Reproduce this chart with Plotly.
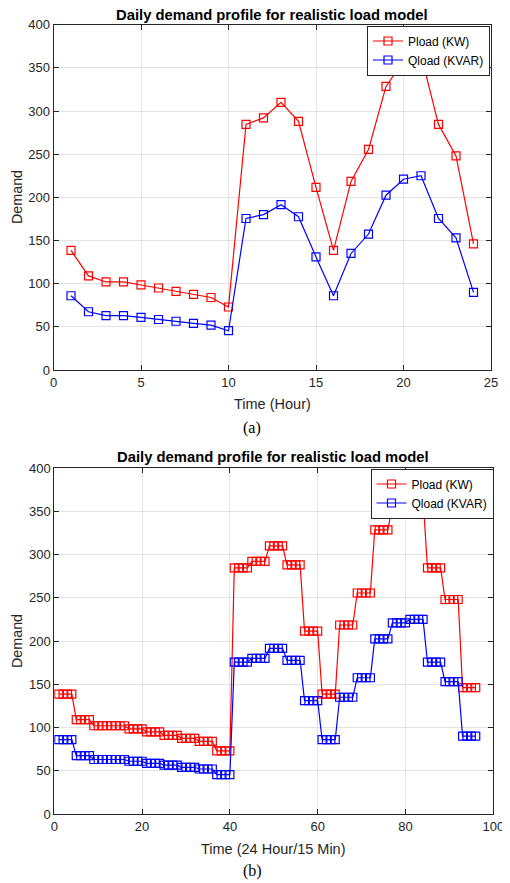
import numpy as np
import plotly.graph_objs as go

# hourly load values
hours = list(range(1, 25))
pload = [138.5, 109, 102, 102, 98.5, 95, 91, 87.5, 84, 73,
         284.5, 292, 310, 288, 211.5, 138.5, 218.5, 255.5, 328.5, 358,
         365, 284.5, 248, 146]
qload = [86, 67.5, 63, 63, 61, 58.5, 56.5, 54, 52, 45.5,
         175.5, 180, 191.5, 177.5, 131, 86, 135, 157.5, 202.5, 221,
         225, 175.5, 153, 90]

# panel (b): the same hourly values held over four 15 min slots
slots = list(range(1, 97))
pload_15 = np.repeat(pload, 4)
qload_15 = np.repeat(qload, 4)

y_ticks = list(range(0, 401, 50))
x_ticks_a = list(range(0, 26, 5))
x_ticks_b = list(range(0, 101, 20))

font_main = "Liberation Sans, Arial, sans-serif"
font_serif = "Liberation Serif, Times New Roman, serif"
axis_col = "#262626"
grid_col = "#e3e3e3"

W, H = 510, 883
OFF = 8  # the page body margin shifts the figure by 8 px


def px(x):
    # page pixel -> paper x
    return (x - OFF) / W


def py(y):
    # page pixel -> paper y
    return 1 - (y - OFF) / H


fig = go.Figure()


def add_pair(x, p, q, xaxis, yaxis, legend):
    fig.add_trace(go.Scatter(x=x, y=p, mode="lines+markers", name="Pload (KW)",
                             line=dict(color="#ff0000", width=1.2),
                             marker=dict(symbol="square-open", size=8, color="#ff0000",
                                         line=dict(width=1.2)),
                             xaxis=xaxis, yaxis=yaxis, legend=legend))
    fig.add_trace(go.Scatter(x=x, y=q, mode="lines+markers", name="Qload (KVAR)",
                             line=dict(color="#0000ff", width=1.2),
                             marker=dict(symbol="square-open", size=8, color="#0000ff",
                                         line=dict(width=1.2)),
                             xaxis=xaxis, yaxis=yaxis, legend=legend))


add_pair(hours, pload, qload, "x", "y", "legend")
add_pair(slots, pload_15, qload_15, "x2", "y2", "legend2")

axis_common = dict(showgrid=True, gridcolor=grid_col, gridwidth=1, automargin=False,
                   zeroline=False, showline=True, linecolor=axis_col, linewidth=1,
                   mirror="ticks", ticks="inside", ticklen=5, tickcolor=axis_col,
                   tickfont=dict(family=font_main, size=13, color=axis_col))

legend_common = dict(xanchor="right", yanchor="top", bgcolor="white",
                     bordercolor=axis_col, borderwidth=1,
                     font=dict(family=font_main, size=12, color="black"),
                     tracegroupgap=0, itemwidth=30)

fig.update_layout(
    width=W, height=H,
    margin=dict(l=0, r=0, t=0, b=0),
    paper_bgcolor="white", plot_bgcolor="white",
    showlegend=True,
    xaxis=dict(domain=[px(53.5), px(491)], range=[0, 25], tickvals=x_ticks_a,
               anchor="y", **axis_common),
    yaxis=dict(domain=[py(370), py(24.7)], range=[0, 400], tickvals=y_ticks,
               anchor="x", **axis_common),
    xaxis2=dict(domain=[px(54.3), px(493.3)], range=[0, 100], tickvals=x_ticks_b,
                anchor="y2", **axis_common),
    yaxis2=dict(domain=[py(814), py(468)], range=[0, 400], tickvals=y_ticks,
                anchor="x2", **axis_common),
    legend=dict(x=px(490), y=py(25.5), **legend_common),
    legend2=dict(x=px(493.5), y=py(468.5), **legend_common),
)

notes = [
    (271.5, 15, "<b>Daily demand profile for realistic load model</b>", 14.8, font_main, "black", 0),
    (272.8, 457, "<b>Daily demand profile for realistic load model</b>", 14.8, font_main, "black", 0),
    (272.5, 404, "Time (Hour)", 14.5, font_main, axis_col, 0),
    (273.3, 849, "Time (24 Hour/15 Min)", 14.5, font_main, axis_col, 0),
    (252, 428, "(a)", 16, font_serif, "black", 0),
    (252, 871, "(b)", 16, font_serif, "black", 0),
    (17, 197, "Demand", 14.3, font_main, axis_col, -90),
    (17, 641, "Demand", 14.3, font_main, axis_col, -90),
]
for x, ypix, text, size, fam, col, ang in notes:
    fig.add_annotation(x=px(x), y=py(ypix), xref="paper", yref="paper",
                       text=text, showarrow=False, textangle=ang,
                       xanchor="center", yanchor="middle",
                       font=dict(family=fam, size=size, color=col))

fig.write_html("out.html")
